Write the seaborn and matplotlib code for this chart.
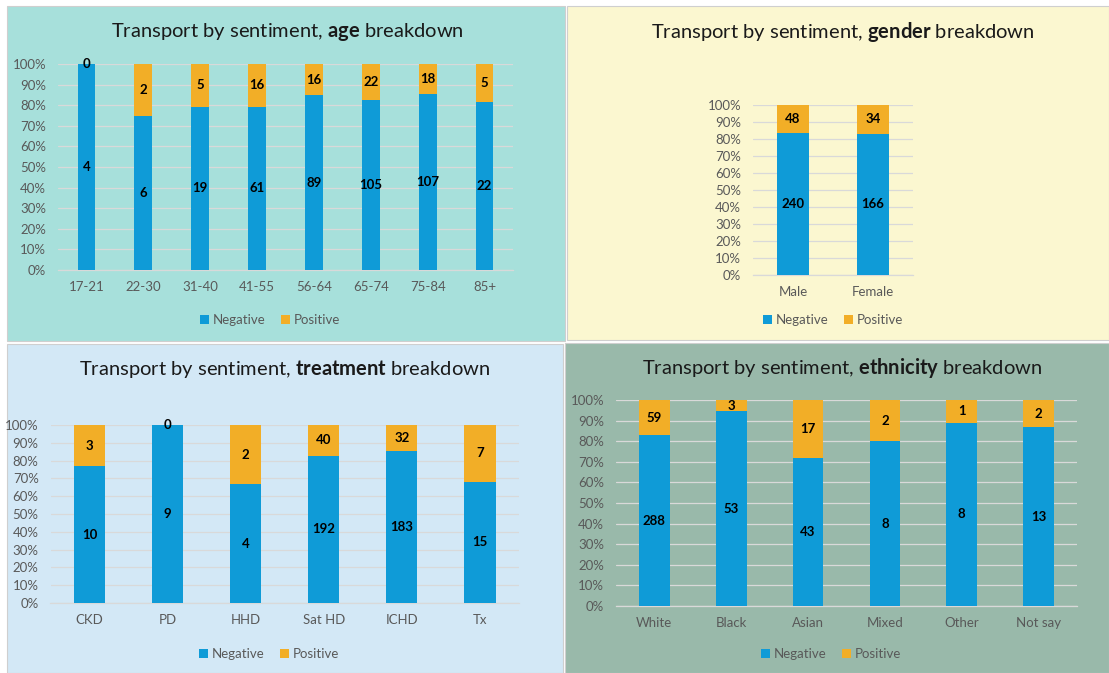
import matplotlib
matplotlib.use("Agg")
import matplotlib.pyplot as plt
from matplotlib.patches import Rectangle, Patch
import seaborn as sns
import pandas as pd

# ---------------- data ----------------
age_cats = ["17-21", "22-30", "31-40", "41-55", "56-64", "65-74", "75-84", "85+"]
age_neg = [4, 6, 19, 61, 89, 105, 107, 22]
age_pos = [0, 2, 5, 16, 16, 22, 18, 5]

gender_cats = ["Male", "Female"]
gender_neg = [240, 166]
gender_pos = [48, 34]

treat_cats = ["CKD", "PD", "HHD", "Sat HD", "ICHD", "Tx"]
treat_neg = [10, 9, 4, 192, 183, 15]
treat_pos = [3, 0, 2, 40, 32, 7]

eth_cats = ["White", "Black", "Asian", "Mixed", "Other", "Not say"]
eth_neg = [288, 53, 43, 8, 8, 13]
eth_pos = [59, 3, 17, 2, 1, 2]

yticks = [0, 10, 20, 30, 40, 50, 60, 70, 80, 90, 100]
series_names = ["Negative", "Positive"]

# ---------------- style ----------------
sns.set_theme(style="white")
FONT = "Lato"
plt.rcParams["font.family"] = [FONT, "DejaVu Sans"]
plt.rcParams["mathtext.fontset"] = "custom"
plt.rcParams["mathtext.rm"] = FONT
plt.rcParams["mathtext.bf"] = FONT + ":bold"

BLUE = "#0F9BD7"
ORANGE = "#F2AE27"
GRID = "#D9D9D9"
TXT = "#595959"

W, H = 1109, 673
fig = plt.figure(figsize=(W / 100, H / 100), dpi=100)
fig.patch.set_facecolor("white")


def px_rect(x0, y0, x1, y1):
    return (x0 / W, 1 - y1 / H, (x1 - x0) / W, (y1 - y0) / H)


# panel backgrounds
panels = [
    ((7, 6, 565, 341), "#A7E0DB"),
    ((567, 6, 1109, 340), "#FBF7D0"),
    ((7, 344, 563, 673), "#D3E8F6"),
    ((565, 343, 1109, 673), "#99B9AA"),
]
for (x0, y0, x1, y1), col in panels:
    l, b, w, h = px_rect(x0, y0, x1, y1)
    fig.patches.append(Rectangle((l, b), w, h, transform=fig.transFigure,
                                 facecolor=col, edgecolor="#CFCFCF", lw=0.8, zorder=-5))


def draw(ax_px, cats, neg, pos, barw, title_word, title_xy, legend_xy):
    ax = fig.add_axes(px_rect(*ax_px))
    ax.set_facecolor("none")
    ax.set_zorder(2)
    tot = [n + p for n, p in zip(neg, pos)]
    neg_share = [n / t for n, t in zip(neg, tot)]
    full_share = [(n + p) / t for n, p, t in zip(neg, pos, tot)]
    df = pd.DataFrame({"cat": cats, "neg": neg_share, "full": full_share})
    sns.barplot(data=df, x="cat", y="full", color=ORANGE, saturation=1,
                width=barw, ax=ax, zorder=2, linewidth=0)
    sns.barplot(data=df, x="cat", y="neg", color=BLUE, saturation=1,
                width=barw, ax=ax, zorder=3, linewidth=0)
    for i in range(len(cats)):
        ax.text(i, neg_share[i] / 2, str(neg[i]), ha="center", va="center",
                fontsize=9.5, fontweight="bold", color="black", zorder=5)
        ax.text(i, neg_share[i] + (1 - neg_share[i]) / 2, str(pos[i]), ha="center",
                va="center", fontsize=9.5, fontweight="bold", color="black", zorder=5)
    ax.set_xlim(-0.5, len(cats) - 0.5)
    ax.set_ylim(0, 1)
    ax.set_yticks([v / 100 for v in yticks])
    ax.set_yticklabels([f"{v}%" for v in yticks])
    ax.yaxis.grid(True, color=GRID, lw=0.9, zorder=0)
    ax.set_axisbelow(True)
    for s in ["top", "right", "left"]:
        ax.spines[s].set_visible(False)
    ax.spines["bottom"].set_color(GRID)
    ax.spines["bottom"].set_linewidth(0.9)
    ax.tick_params(axis="y", length=0, pad=8.5, labelsize=9.5, labelcolor=TXT)
    ax.tick_params(axis="x", length=0, pad=8, labelsize=9.5, labelcolor=TXT)
    ax.set_xlabel("")
    ax.set_ylabel("")
    tx, ty = title_xy
    fig.text(tx / W, 1 - ty / H,
             "Transport by sentiment, $\\mathbf{" + title_word + "}$ breakdown",
             ha="center", va="center", fontsize=14.5, color="#1A1A1A")
    handles = [Patch(facecolor=BLUE, edgecolor="none", label=series_names[0]),
               Patch(facecolor=ORANGE, edgecolor="none", label=series_names[1])]
    lx, ly = legend_xy
    fig.legend(handles=handles, loc="center", bbox_to_anchor=(lx / W, 1 - ly / H),
               ncol=2, frameon=False, fontsize=9.5, labelcolor=TXT,
               handlelength=0.65, handleheight=0.65, handletextpad=0.3,
               columnspacing=1.2, borderaxespad=0)
    return ax


draw((58, 64, 513, 270), age_cats, age_neg, age_pos, 0.31, "age",
     (287, 32), (270, 320))
draw((753, 105, 913, 275), gender_cats, gender_neg, gender_pos, 0.4, "gender",
     (843, 32), (833, 320))
draw((50.5, 425, 519, 603), treat_cats, treat_neg, treat_pos, 0.4, "treatment",
     (285, 369), (269, 654))
draw((616, 400, 1077, 606), eth_cats, eth_neg, eth_pos, 0.4, "ethnicity",
     (842, 368), (831, 654))

fig.savefig("out.png", dpi=100)
